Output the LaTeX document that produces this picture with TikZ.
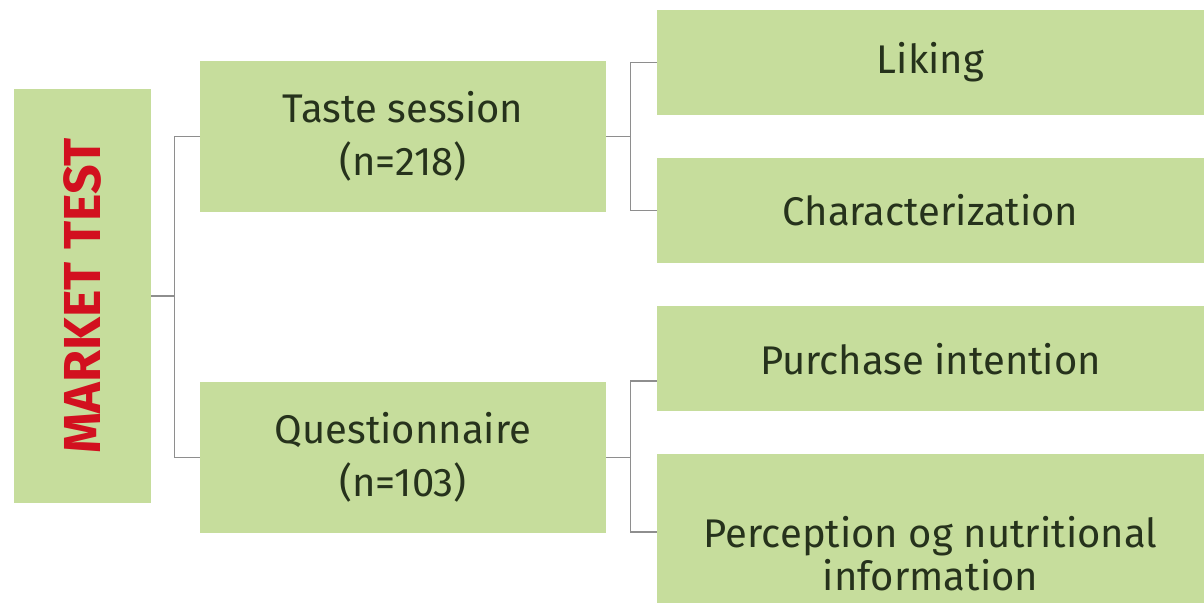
\documentclass[tikz,border=0pt]{standalone}
\usepackage{fontspec}
\setmainfont{Fira Sans}
\usetikzlibrary{positioning}

\definecolor{boxgreen}{HTML}{C6DD9C}
\definecolor{txtgreen}{HTML}{26321C}
\definecolor{mtred}{HTML}{D2101F}
\definecolor{linkgray}{HTML}{8E8E8E}

\begin{document}
\begin{tikzpicture}[
        x=0.5pt, y=-0.5pt,
        every node/.style={fill=boxgreen, text=txtgreen, inner sep=0pt, align=center,
            font=\fontsize{20}{26.5}\selectfont},
        rootbox/.style={minimum width=68.5pt, minimum height=207pt},
        midbox/.style={minimum width=203pt, minimum height=75.5pt},
        leafbox/.style={minimum width=273.5pt, minimum height=52.5pt},
        link/.style={draw=linkgray, line width=0.8pt}
    ]

    \useasboundingbox (0,0) rectangle (1204,603);
    \clip (0,0) rectangle (1204,603);

    \node[rootbox] (market) at (82.5,296)
        {\rotatebox{90}{\color{mtred}\fontsize{26}{26}\selectfont\bfseries MARKET TEST}};

    \node[midbox] (taste) at (403,136.5) {Taste session\\(n=218)};
    \node[midbox] (quest) at (403,457.5) {Questionnaire\\(n=103)};

    \node[leafbox] (liking) at (930.5,62.5) {Liking};
    \node[leafbox] (charac) at (930.5,210.5) {Characterization};
    \node[leafbox] (purch) at (930.5,359) {Purchase intention};
    \node[leafbox, minimum height=100pt, font=\fontsize{20}{21.5}\selectfont] (percep) at (930.5,554)
        {Perception og nutritional\\information};

    \draw[link] (taste.west) -- ++(-25,0) |- (market.east);
    \draw[link] (quest.west) -- ++(-25,0) |- (market.east);

    \draw[link] (liking.west) -- ++(-26,0) |- (taste.east);
    \draw[link] (charac.west) -- ++(-26,0) |- (taste.east);

    \draw[link] ([yshift=-11pt]purch.west) -- ++(-26,0) |- (quest.east);
    \draw[link] ([yshift=11pt]percep.west) -- ++(-26,0) |- (quest.east);
\end{tikzpicture}
\end{document}
